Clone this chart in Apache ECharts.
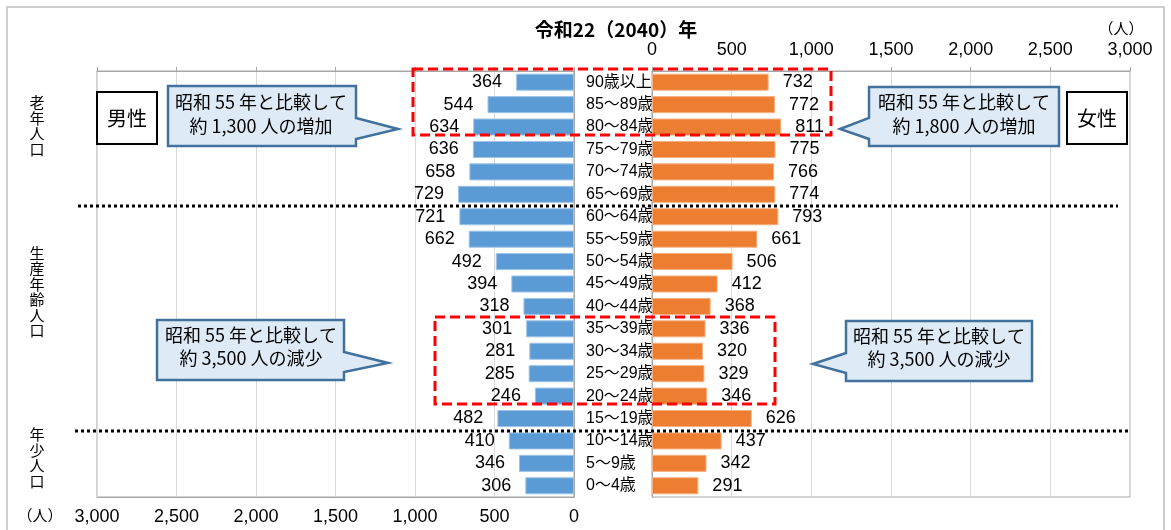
<!DOCTYPE html>
<html><head><meta charset="utf-8">
<script src="https://cdn.jsdelivr.net/npm/echarts@6/dist/echarts.min.js"></script>
<style>html,body{margin:0;padding:0;background:#fff}#c{width:1171px;height:530px}</style>
</head><body><div id="c"></div>
<script>
const ages = ['90歳以上','85～89歳','80～84歳','75～79歳','70～74歳','65～69歳','60～64歳','55～59歳','50～54歳','45～49歳','40～44歳','35～39歳','30～34歳','25～29歳','20～24歳','15～19歳','10～14歳','5～9歳','0～4歳'];
const male = [364,544,634,636,658,729,721,662,492,394,318,301,281,285,246,482,410,346,306];
const female = [732,772,811,775,766,774,793,661,506,412,368,336,320,329,346,626,437,342,291];
const tickLabels = {0:'0',500:'500',1000:'1,000',1500:'1,500',2000:'2,000',2500:'2,500',3000:'3,000'};

const NUM = "'Liberation Sans Narrow','Liberation Sans','Noto Sans CJK JP'";
const JP = "'Noto Sans CJK JP'";
const chart = echarts.init(document.getElementById('c'));
const fmt = v => tickLabels[v] !== undefined ? tickLabels[v] : String(v);
const gridLine = {show:true, lineStyle:{color:'#d9d9d9', width:1}};
const frame = '#a6a6a6';

function callout(pts, lines, cx, y1, y2){
  return [
    {type:'polygon', z:100, shape:{points:pts}, style:{fill:'#deebf7', stroke:'#41719c', lineWidth:2.5}},
    {type:'text', z:101, x:cx, y:y1, style:{text:lines[0], font:"18px "+JP, fill:'#000', align:'center', verticalAlign:'middle'}},
    {type:'text', z:101, x:cx, y:y2, style:{text:lines[1], font:"18px "+JP, fill:'#000', align:'center', verticalAlign:'middle'}}
  ];
}

const option = {
  animation:false,
  backgroundColor:'#fff',
  grid:[
    {left:97, right:597, top:71, bottom:33, show:true, borderColor:frame, borderWidth:1},
    {left:652, right:41, top:71, bottom:33, show:true, borderColor:frame, borderWidth:1}
  ],
  xAxis:[
    {gridIndex:0, type:'value', min:0, max:3000, interval:500, inverse:true, position:'bottom',
     axisLine:{show:true, lineStyle:{color:frame}}, axisTick:{show:false},
     axisLabel:{formatter:fmt, fontFamily:NUM, fontSize:18, color:'#000', margin:11},
     splitLine:gridLine},
    {gridIndex:1, type:'value', min:0, max:3000, interval:500, position:'top',
     axisLine:{show:true, lineStyle:{color:frame}}, axisTick:{show:true, length:4, lineStyle:{color:frame}},
     axisLabel:{formatter:fmt, fontFamily:NUM, fontSize:18, color:'#000', margin:12},
     splitLine:gridLine},
    {gridIndex:0, type:'value', min:0, max:3000, interval:500, inverse:true, position:'top',
     axisLine:{show:true, lineStyle:{color:frame}}, axisTick:{show:true, length:4, lineStyle:{color:frame}},
     axisLabel:{show:false}, splitLine:{show:false}}
  ],
  yAxis:[
    {gridIndex:0, type:'category', data:ages, inverse:true, position:'right',
     axisLine:{show:true, lineStyle:{color:frame}}, axisTick:{show:false}, axisLabel:{show:false}},
    {gridIndex:1, type:'category', data:ages, inverse:true, position:'left',
     axisLine:{show:true, lineStyle:{color:frame}}, axisTick:{show:false},
     axisLabel:{align:'left', margin:66, fontFamily:NUM, fontSize:16, color:'#000'}}
  ],
  series:[
    {name:'男性', type:'bar', xAxisIndex:0, yAxisIndex:0, data:male, barCategoryGap:'24%',
     itemStyle:{color:'#5b9bd5', borderColor:'#9dc3e6', borderWidth:1},
     label:{show:true, position:'left', distance:14, fontFamily:NUM, fontSize:18, color:'#000'}},
    {name:'女性', type:'bar', xAxisIndex:1, yAxisIndex:1, data:female, barCategoryGap:'24%',
     itemStyle:{color:'#ed7d31', borderColor:'#f4b183', borderWidth:1},
     label:{show:true, position:'right', distance:14, fontFamily:NUM, fontSize:18, color:'#000'}}
  ],
  graphic:[
    {type:'rect', z:0, shape:{x:7, y:7, width:1157, height:540}, style:{fill:'none', stroke:'#bfbfbf', lineWidth:1.5}, silent:true},
    {type:'text', x:616, y:30, style:{text:'令和22（2040）年', font:"bold 19px "+JP, fill:'#000', align:'center', verticalAlign:'middle'}},
    {type:'text', x:1121, y:28, style:{text:'（人）', font:"15px "+JP, fill:'#000', align:'center', verticalAlign:'middle'}},
    {type:'text', x:40, y:515, style:{text:'（人）', font:"15px "+JP, fill:'#000', align:'center', verticalAlign:'middle'}},
    {type:'text', x:37, y:126, style:{text:'老\n年\n人\n口', font:"15px "+JP, lineHeight:15.5, fill:'#000', align:'center', verticalAlign:'middle'}},
    {type:'text', x:37, y:292, style:{text:'生\n産\n年\n齢\n人\n口', font:"15px "+JP, lineHeight:15.5, fill:'#000', align:'center', verticalAlign:'middle'}},
    {type:'text', x:37, y:458, style:{text:'年\n少\n人\n口', font:"15px "+JP, lineHeight:15.5, fill:'#000', align:'center', verticalAlign:'middle'}},
    {type:'line', z:90, shape:{x1:78, y1:206, x2:1118, y2:206}, style:{stroke:'#000', lineWidth:3, lineDash:[3,3]}},
    {type:'line', z:90, shape:{x1:75, y1:431, x2:1128, y2:431}, style:{stroke:'#000', lineWidth:3, lineDash:[3,3]}},
    {type:'rect', z:95, shape:{x:413, y:69, width:418, height:66}, style:{fill:'none', stroke:'#ff0000', lineWidth:3, lineDash:[10,5]}},
    {type:'rect', z:95, shape:{x:435, y:317, width:340, height:87}, style:{fill:'none', stroke:'#ff0000', lineWidth:3, lineDash:[10,5]}},
    {type:'rect', z:100, shape:{x:97, y:92, width:60, height:52}, style:{fill:'#fff', stroke:'#000', lineWidth:2}},
    {type:'text', z:101, x:127, y:118, style:{text:'男性', font:"20px "+JP, fill:'#000', align:'center', verticalAlign:'middle'}},
    {type:'rect', z:100, shape:{x:1067, y:92, width:60, height:52}, style:{fill:'#fff', stroke:'#000', lineWidth:2}},
    {type:'text', z:101, x:1097, y:118, style:{text:'女性', font:"20px "+JP, fill:'#000', align:'center', verticalAlign:'middle'}}
  ]
  .concat(callout([[168,86],[356,86],[356,118],[398,129],[356,139],[356,146],[168,146]], ['昭和 55 年と比較して','約 1,300 人の増加'], 261, 102, 126))
  .concat(callout([[869,87],[1059,87],[1059,146],[869,146],[869,139],[840,129],[869,118]], ['昭和 55 年と比較して','約 1,800 人の増加'], 964, 102, 126))
  .concat(callout([[157,320],[344,320],[344,352],[388,363],[344,372],[344,380],[157,380]], ['昭和 55 年と比較して','約 3,500 人の減少'], 251, 335, 358))
  .concat(callout([[846,321],[1032,321],[1032,381],[846,381],[846,373],[813,364],[846,353]], ['昭和 55 年と比較して','約 3,500 人の減少'], 939, 336, 359))
};
chart.setOption(option);
</script></body></html>
